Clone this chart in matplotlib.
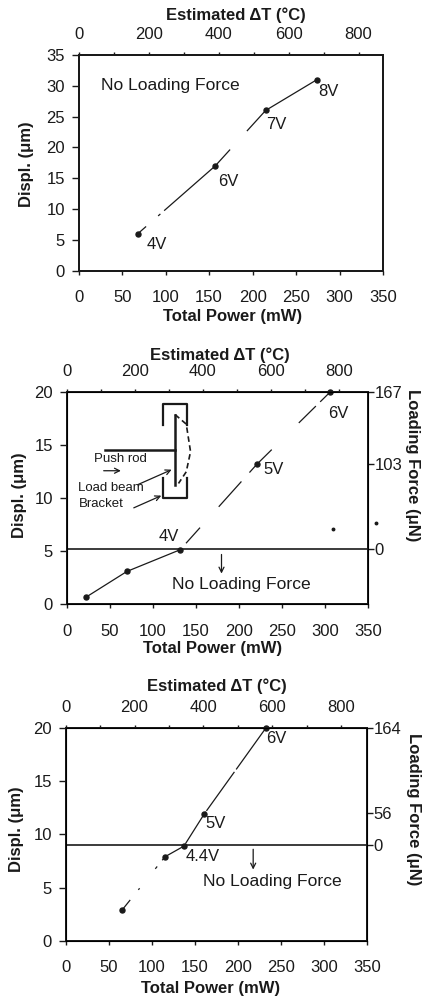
import matplotlib
matplotlib.use('Agg')
import matplotlib.pyplot as plt

plt.rcParams['font.family'] = ['Liberation Sans', 'DejaVu Sans']
plt.rcParams['font.size'] = 12
plt.rcParams['lines.scale_dashes'] = False
plt.rcParams['text.color'] = '#222222'

W, H = 424, 998
INK = '#1a1a1a'

# panel 1: no loading force
power1 = [68, 157, 215, 274]
displ1 = [6, 17, 26, 31]
volts1 = ['4V', '6V', '7V', '8V']

# panel 2: load applied above 4V
power2 = [23, 70, 132, 221, 306]
displ2 = [0.7, 3.1, 5.15, 13.2, 20]
volts2 = ['4V', '5V', '6V']
force_pos2 = [5.2, 13.2, 20]
force_lab2 = ['0', '103', '167']
specks_x2 = [310, 360]
specks_y2 = [7.1, 7.7]

# panel 3
power3 = [65.5, 115.5, 137.5, 161, 233]
displ3 = [2.9, 7.9, 8.9, 11.9, 20]
volts3 = ['4.4V', '5V', '6V']
force_pos3 = [9, 12, 20]
force_lab3 = ['0', '56', '164']

power_ticks = [0, 50, 100, 150, 200, 250, 300, 350]
temp_major = [0, 200, 400, 600, 800]
temp_minor = [100, 300, 500, 700]

# load beam sketch in panel 2, in data units
bracket_top_x = [112, 112, 140, 140]
bracket_top_y = [16.9, 18.85, 18.85, 16.9]
bracket_bot_x = [112, 112, 140, 140]
bracket_bot_y = [11.9, 10.05, 10.05, 11.9]
beam_x = [126, 126]
beam_y = [17.9, 11.3]
rod_x = [45, 126]
rod_y = [14.6, 14.6]
bent_x = [126, 139, 144, 139, 130]
bent_y = [17.9, 17.0, 14.4, 12.5, 11.4]


def px(n):
    return n * 0.72


def make_panel(left, top, right, bottom, ymax, yticks, tmax, force_pos=None, force_lab=None):
    ax = plt.gcf().add_axes([left / W, 1 - bottom / H, (right - left) / W, (bottom - top) / H])
    ax.set_xlim(0, 350)
    ax.set_ylim(0, ymax)
    ax.set_xticks(power_ticks)
    ax.set_yticks(yticks)
    ax.tick_params(axis='x', length=3, width=1.0, pad=11, color=INK, labelcolor=INK)
    ax.tick_params(axis='y', length=5, width=1.0, pad=5, color=INK, labelcolor=INK)
    top_ax = ax.twiny()
    top_ax.set_xlim(0, tmax)
    top_ax.set_xticks(temp_major)
    top_ax.set_xticks(temp_minor, minor=True)
    top_ax.tick_params(axis='x', which='major', length=2.5, width=1.0, pad=7, color=INK, labelcolor=INK)
    top_ax.tick_params(axis='x', which='minor', length=2.5, width=1.0, color=INK)
    if force_pos is not None:
        right_ax = ax.twinx()
        right_ax.set_ylim(0, ymax)
        right_ax.set_yticks(force_pos)
        right_ax.set_yticklabels(force_lab)
        right_ax.tick_params(axis='y', length=4, width=1.0, pad=1, color=INK, labelcolor=INK)
    for a in [ax, top_ax]:
        for s in a.spines.values():
            s.set_linewidth(1.4)
            s.set_color(INK)
    return ax


def draw_series(ax, x, y, dashes):
    ax.plot(x, y, color=INK, lw=0.9, ls=(0, [px(d) for d in dashes]), clip_on=False, zorder=3)
    ax.plot(x, y, ls='none', marker='o', ms=3.6, color=INK, clip_on=False, zorder=4)


def label(x, y, s, **kw):
    plt.gcf().text(x / W, 1 - y / H, s, ha='center', va='center', color=INK, weight='bold', fontsize=12, **kw)


fig = plt.figure(figsize=(W / 100, H / 100), dpi=100)

# panel 1
ax1 = make_panel(78.7, 55, 383, 270.7, 35, [0, 5, 10, 15, 20, 25, 30, 35], 870)
draw_series(ax1, power1, displ1, [11, 16, 3, 5, 90, 25, 260, 10])
ax1.text(26, 30, 'No Loading Force', va='center', color=INK, fontsize=12.6)
ax1.text(78, 4.2, volts1[0], va='center', color=INK)
ax1.text(160, 14.5, volts1[1], va='center', color=INK)
ax1.text(216, 23.8, volts1[2], va='center', color=INK)
ax1.text(275, 29, volts1[3], va='center', color=INK)
label(236, 15, 'Estimated ΔT (°C)')
label(26, 164, 'Displ. (μm)', rotation=90)
label(233, 316.7, 'Total Power (mW)')

# panel 2
ax2 = make_panel(66.7, 392.3, 367.7, 604.3, 20, [0, 5, 10, 15, 20], 885, force_pos2, force_lab2)
draw_series(ax2, power2, displ2, [104, 10, 21, 28, 34, 12, 32, 38, 24, 6, 200, 10])
ax2.axhline(5.2, color=INK, lw=1.2, zorder=2)
ax2.plot(specks_x2, specks_y2, ls='none', marker='o', ms=1.8, color=INK, clip_on=False)
ax2.plot(bracket_top_x, bracket_top_y, color=INK, lw=1.6)
ax2.plot(bracket_bot_x, bracket_bot_y, color=INK, lw=1.6)
ax2.plot(beam_x, beam_y, color=INK, lw=1.8)
ax2.plot(rod_x, rod_y, color=INK, lw=1.8)
ax2.plot(bent_x, bent_y, color=INK, lw=1.2, ls=(0, (4, 2.5)))
ax2.text(32, 13.7, 'Push rod', va='center', fontsize=9.5, color=INK)
ax2.text(13.5, 11.0, 'Load beam', va='center', fontsize=9.5, color=INK)
ax2.text(14.5, 9.5, 'Bracket', va='center', fontsize=9.5, color=INK)
ax2.text(107, 6.4, volts2[0], va='center', color=INK)
ax2.text(229, 12.7, volts2[1], va='center', color=INK)
ax2.text(304, 18.0, volts2[2], va='center', color=INK)
ax2.text(123, 1.85, 'No Loading Force', va='center', color=INK, fontsize=12.6)
arrow = dict(arrowstyle='->', color=INK, lw=0.9, mutation_scale=9, shrinkA=0, shrinkB=0)
ax2.annotate('', xy=(63, 12.6), xytext=(43, 12.6), arrowprops=arrow)
ax2.annotate('', xy=(122, 12.7), xytext=(83, 11.3), arrowprops=arrow)
ax2.annotate('', xy=(110, 10.25), xytext=(78, 9.1), arrowprops=arrow)
ax2.annotate('', xy=(180, 2.9), xytext=(180, 4.7), arrowprops=arrow)
label(220, 355, 'Estimated ΔT (°C)')
label(20, 495, 'Displ. (μm)', rotation=90)
label(412.7, 465, 'Loading Force (μN)', rotation=270)
label(213, 648, 'Total Power (mW)')

# panel 3
ax3 = make_panel(65.7, 727.7, 366.7, 941, 20, [0, 5, 10, 15, 20], 875, force_pos3, force_lab3)
draw_series(ax3, power3, displ3, [13, 13, 2, 25, 3, 8, 28, 1, 38, 1, 48, 3, 62, 6, 10, 10])
ax3.axhline(9, color=INK, lw=1.2, zorder=2)
ax3.text(140, 7.9, volts3[0], va='center', color=INK)
ax3.text(162, 11.0, volts3[1], va='center', color=INK)
ax3.text(233, 19.0, volts3[2], va='center', color=INK)
ax3.text(160, 5.6, 'No Loading Force', va='center', color=INK, fontsize=12.6)
ax3.annotate('', xy=(218, 6.7), xytext=(218, 8.6), arrowprops=arrow)
label(217, 686, 'Estimated ΔT (°C)')
label(17, 829, 'Displ. (μm)', rotation=90)
label(413, 809, 'Loading Force (μN)', rotation=270)
label(211, 988, 'Total Power (mW)')

fig.savefig('out.png', dpi=100)
